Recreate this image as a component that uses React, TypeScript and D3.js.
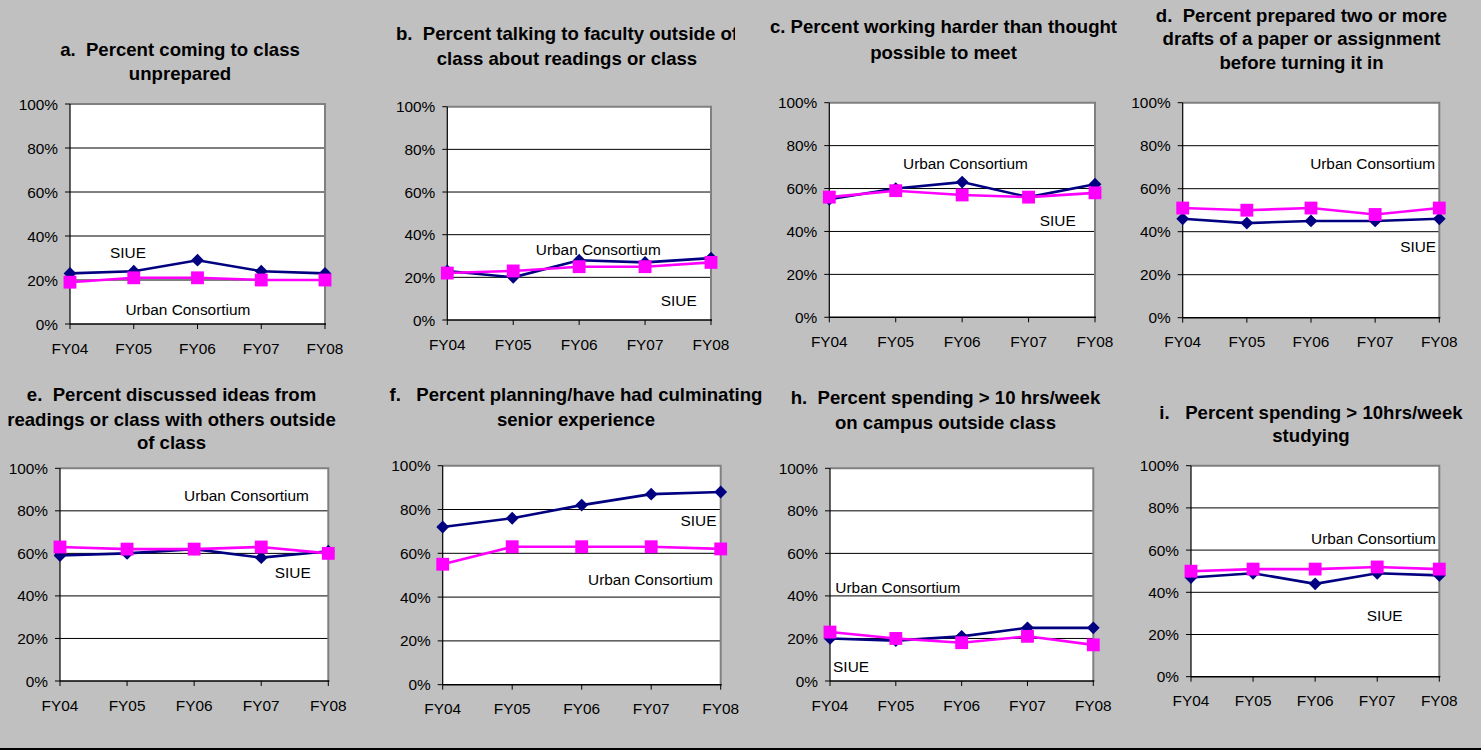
import * as d3 from 'd3';

const years = ['FY04', 'FY05', 'FY06', 'FY07', 'FY08'];
const yTicks = [0, 20, 40, 60, 80, 100];

// SIUE (navy diamonds) and Urban Consortium (magenta squares), percent
const siueA = [23, 24, 29, 24, 23];
const urbanA = [19, 21, 21, 20, 20];
const siueB = [23, 20, 28, 27, 29];
const urbanB = [22, 23, 25, 25, 27];
const siueC = [55, 60, 63, 56, 62];
const urbanC = [56, 59, 57, 56, 58];
const siueD = [46, 44, 45, 45, 46];
const urbanD = [51, 50, 51, 48, 51];
const siueE = [59, 60, 62, 58, 61];
const urbanE = [63, 62, 62, 63, 60];
const siueF = [72, 76, 82, 87, 88];
const urbanF = [55, 63, 63, 63, 62];
const siueH = [20, 19, 21, 25, 25];
const urbanH = [23, 20, 18, 21, 17];
const siueI = [47, 49, 44, 49, 48];
const urbanI = [50, 51, 51, 52, 51];

const NAVY = '#000080';
const MAGENTA = '#FF00FF';
const FONT = '"Liberation Sans", Arial, sans-serif';
const LABEL_SIZE = 15.4;
const TITLE_SIZE = 18.6;

interface Panel {
  key: string;
  title: string[];
  titleX: number;
  titleY: number[];
  clipRight?: number;
  box: [number, number, number, number]; // left, right, top, bottom
  siue: number[];
  urban: number[];
  siueLabel: [number, number]; // category index, percent
  urbanLabel: [number, number];
}

const panels: Panel[] = [
  {
    key: 'a', title: ['a.  Percent coming to class', 'unprepared'], titleX: 180, titleY: [49, 73],
    box: [70, 325, 104, 324], siue: siueA, urban: urbanA, siueLabel: [0.91, 32.4], urbanLabel: [1.85, 6.7],
  },
  {
    key: 'b', title: ['b.  Percent talking to faculty outside of', 'class about readings or class'], titleX: 567, titleY: [33.3, 58.3],
    clipRight: 735,
    box: [447.3, 711, 106.7, 320], siue: siueB, urban: urbanB, siueLabel: [3.51, 9], urbanLabel: [2.29, 33.3],
  },
  {
    key: 'c', title: ['c. Percent working harder than thought', 'possible to meet'], titleX: 943.5, titleY: [26.7, 52.3],
    box: [829.3, 1095, 102.7, 317.3], siue: siueC, urban: urbanC, siueLabel: [3.44, 45.3], urbanLabel: [2.05, 71.7],
  },
  {
    key: 'd', title: ['d.  Percent prepared two or more', 'drafts of a paper or assignment', 'before turning it in'], titleX: 1301.5, titleY: [15, 38, 62],
    box: [1182.7, 1439.3, 102.7, 317.7], siue: siueD, urban: urbanD, siueLabel: [3.67, 33.3], urbanLabel: [2.96, 71.8],
  },
  {
    key: 'e', title: ['e.  Percent discussed ideas from', 'readings or class with others outside', 'of class'], titleX: 171.5, titleY: [394, 419, 442.3],
    box: [60, 328.3, 468.3, 681], siue: siueE, urban: urbanE, siueLabel: [3.47, 51.1], urbanLabel: [2.78, 87.4],
  },
  {
    key: 'f', title: ['f.   Percent planning/have had culminating', 'senior experience'], titleX: 576, titleY: [394, 419],
    box: [442.7, 720.7, 465.7, 684.7], siue: siueF, urban: urbanF, siueLabel: [3.68, 74.9], urbanLabel: [2.99, 48.1],
  },
  {
    key: 'h', title: ['h.  Percent spending > 10 hrs/week', 'on campus outside class'], titleX: 945.5, titleY: [397.3, 422.3],
    box: [830, 1093.3, 468.3, 681], siue: siueH, urban: urbanH, siueLabel: [0.32, 6.7], urbanLabel: [1.03, 43.9],
  },
  {
    key: 'i', title: ['i.   Percent spending > 10hrs/week', 'studying'], titleX: 1311, titleY: [412.3, 435.7],
    box: [1191, 1439.3, 465.7, 676.7], siue: siueI, urban: urbanI, siueLabel: [3.12, 29.2], urbanLabel: [2.94, 65.6],
  },
];

const squarePath = d3.symbol(d3.symbolSquare, 165)()!;
const diamondPath = d3.symbol(d3.symbolSquare, 82)()!;

function Chart({ p }: { p: Panel }) {
  const [left, right, top, bottom] = p.box;
  const x = d3.scalePoint<string>().domain(years).range([left, right]).padding(0);
  const xi = d3.scaleLinear().domain([0, years.length - 1]).range([left, right]);
  const y = d3.scaleLinear().domain([0, 100]).range([bottom, top]);
  const line = d3
    .line<number>()
    .x((_, i) => x(years[i])!)
    .y((d) => y(d));
  const cap = 0.36;

  return (
    <g>
      <defs>
        {p.clipRight && (
          <clipPath id={`clip-${p.key}`}>
            <rect x={0} y={0} width={p.clipRight} height={750} />
          </clipPath>
        )}
      </defs>
      <g clipPath={p.clipRight ? `url(#clip-${p.key})` : undefined}>
        {p.title.map((t, i) => (
          <text
            key={i}
            x={p.titleX}
            y={p.titleY[i] + TITLE_SIZE * cap}
            textAnchor="middle"
            fontFamily={FONT}
            fontWeight="bold"
            fontSize={TITLE_SIZE}
            style={{ whiteSpace: 'pre' }}
          >
            {t}
          </text>
        ))}
      </g>

      <rect x={left} y={top} width={right - left} height={bottom - top} fill="#fff" />
      {yTicks.slice(1, -1).map((t) => (
        <line key={t} x1={left} x2={right} y1={y(t)} y2={y(t)} stroke="#000" strokeWidth={1} />
      ))}
      {/* top and right frame */}
      <path
        d={`M${left},${top}H${right}V${bottom}`}
        fill="none"
        stroke="#808080"
        strokeWidth={2}
      />
      {/* axes */}
      <line x1={left} x2={left} y1={top} y2={bottom} stroke="#000" strokeWidth={1.2} />
      <line x1={left} x2={right + 1} y1={bottom} y2={bottom} stroke="#000" strokeWidth={1.5} />
      {yTicks.map((t) => (
        <g key={t}>
          <line x1={left - 5} x2={left} y1={y(t)} y2={y(t)} stroke="#000" strokeWidth={1} />
          <text
            x={left - 12}
            y={y(t) + LABEL_SIZE * cap}
            textAnchor="end"
            fontFamily={FONT}
            fontSize={LABEL_SIZE}
          >
            {`${t}%`}
          </text>
        </g>
      ))}
      {years.map((yr) => (
        <g key={yr}>
          <line x1={x(yr)} x2={x(yr)} y1={bottom} y2={bottom + 5} stroke="#000" strokeWidth={1} />
          <text
            x={x(yr)}
            y={bottom + 24 + LABEL_SIZE * cap}
            textAnchor="middle"
            fontFamily={FONT}
            fontSize={LABEL_SIZE}
          >
            {yr}
          </text>
        </g>
      ))}

      <path d={line(p.siue)!} fill="none" stroke={NAVY} strokeWidth={2.6} />
      {p.siue.map((v, i) => (
        <path
          key={i}
          d={diamondPath}
          transform={`translate(${x(years[i])},${y(v)}) rotate(45)`}
          fill={NAVY}
        />
      ))}
      <path d={line(p.urban)!} fill="none" stroke={MAGENTA} strokeWidth={2.6} />
      {p.urban.map((v, i) => (
        <path key={i} d={squarePath} transform={`translate(${x(years[i])},${y(v)})`} fill={MAGENTA} />
      ))}

      <text
        x={xi(p.siueLabel[0])}
        y={y(p.siueLabel[1]) + LABEL_SIZE * cap}
        textAnchor="middle"
        fontFamily={FONT}
        fontSize={LABEL_SIZE}
      >
        SIUE
      </text>
      <text
        x={xi(p.urbanLabel[0])}
        y={y(p.urbanLabel[1]) + LABEL_SIZE * cap}
        textAnchor="middle"
        fontFamily={FONT}
        fontSize={LABEL_SIZE}
      >
        Urban Consortium
      </text>
    </g>
  );
}

export default function App() {
  return (
    <div style={{ position: 'absolute', left: 0, top: 0 }}>
      <svg width={1481} height={750} style={{ display: 'block' }}>
        <rect x={0} y={0} width={1481} height={750} fill="#C0C0C0" />
        {panels.map((p) => (
          <Chart key={p.key} p={p} />
        ))}
        <rect x={0} y={748} width={1481} height={2} fill="#000" />
      </svg>
    </div>
  );
}
